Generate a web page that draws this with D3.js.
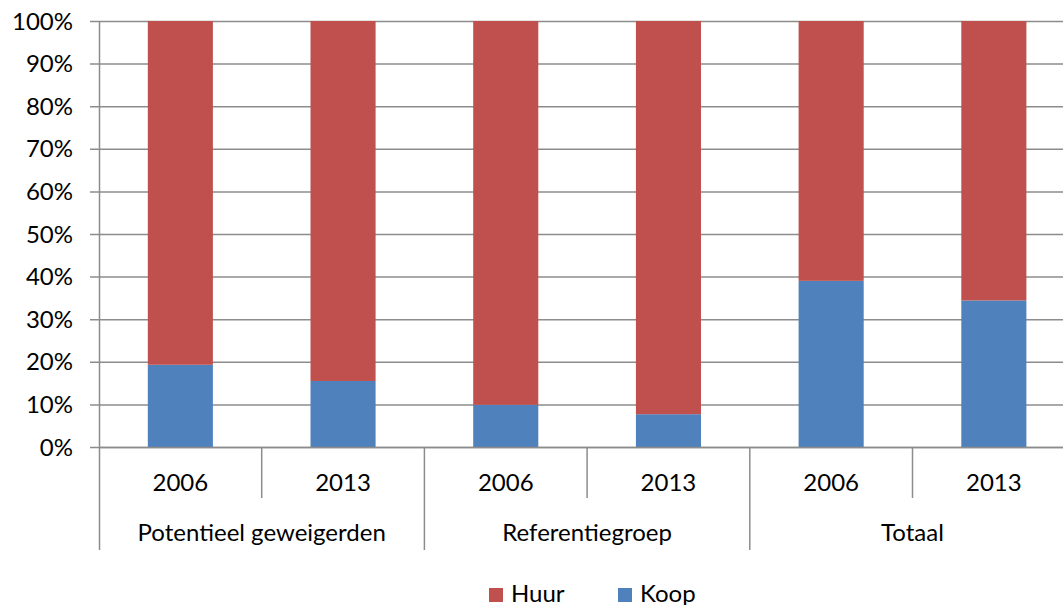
<!DOCTYPE html>
<html>
<head>
<meta charset="utf-8">
<script src="https://cdn.jsdelivr.net/npm/d3@7"></script>
<style>
  body { margin: 0; background: #fff; }
  svg { display: block; font-family: Lato, "Open Sans", sans-serif; }
</style>
</head>
<body>
<svg id="chart" width="1063" height="605"></svg>
<script>
// data
const groups = ["Potentieel geweigerden", "Referentiegroep", "Totaal"];
const years = ["2006", "2013"];
const koop = [19.3, 15.5, 9.9, 7.7, 39.0, 34.4];
const huur = koop.map((k) => 100 - k);
const seriesNames = ["Huur", "Koop"];
const colors = { Huur: "#C0504D", Koop: "#4F81BD" };
const yTicks = [0, 10, 20, 30, 40, 50, 60, 70, 80, 90, 100];

// one row per bar
const rows = [];
groups.forEach((g, gi) => {
  years.forEach((yr, yi) => {
    const i = gi * years.length + yi;
    rows.push({ key: g + "|" + yr, group: g, year: yr, Koop: koop[i], Huur: huur[i] });
  });
});

const svg = d3.select("#chart");
const plotLeft = 99, plotTop = 21, plotBottom = 447;
const step = 162.7;
const plotRight = plotLeft + step * rows.length; // plot runs past the picture edge
const fontSize = 24;

const x = d3.scaleBand()
  .domain(rows.map((d) => d.key))
  .range([plotLeft, plotRight])
  .paddingInner(0.6)
  .paddingOuter(0.3);

const y = d3.scaleLinear().domain([0, 100]).range([plotBottom, plotTop]);

//gridlines with small outward ticks
svg.append("g")
  .selectAll("line")
  .data(yTicks)
  .join("line")
  .attr("x1", plotLeft - 9)
  .attr("x2", plotRight)
  .attr("y1", (d) => y(d) + 0.5)
  .attr("y2", (d) => y(d) + 0.5)
  .attr("stroke", "#8c8c8c")
  .attr("stroke-width", 1.5);

// y labels
svg.append("g")
  .selectAll("text")
  .data(yTicks)
  .join("text")
  .attr("x", plotLeft - 26)
  .attr("y", (d) => y(d))
  .attr("dy", "0.36em")
  .attr("text-anchor", "end")
  .attr("font-size", fontSize)
  .attr("fill", "#000")
  .text((d) => d + "%");

// stacked bars
const stack = d3.stack().keys(["Koop", "Huur"])(rows);
svg.append("g")
  .selectAll("g")
  .data(stack)
  .join("g")
  .attr("fill", (s) => colors[s.key])
  .selectAll("rect")
  .data((s) => s)
  .join("rect")
  .attr("x", (d) => x(d.data.key))
  .attr("width", x.bandwidth())
  .attr("y", (d) => y(d[1]))
  .attr("height", (d) => y(d[0]) - y(d[1]));

// axes lines
svg.append("line")
  .attr("x1", plotLeft + 0.5).attr("x2", plotLeft + 0.5)
  .attr("y1", plotTop).attr("y2", 550)
  .attr("stroke", "#8c8c8c").attr("stroke-width", 1.5);

svg.append("line")
  .attr("x1", plotLeft).attr("x2", plotRight)
  .attr("y1", plotBottom + 0.5).attr("y2", plotBottom + 0.5)
  .attr("stroke", "#8c8c8c").attr("stroke-width", 1.5);

// separators between years (short) and between groups (long)
const seps = d3.range(1, rows.length + 1).map((i) => ({
  x: plotLeft + step * i,
  long: i % years.length === 0
}));
svg.append("g")
  .selectAll("line")
  .data(seps)
  .join("line")
  .attr("x1", (d) => d.x)
  .attr("x2", (d) => d.x)
  .attr("y1", plotBottom)
  .attr("y2", (d) => (d.long ? 550 : 498))
  .attr("stroke", "#8c8c8c")
  .attr("stroke-width", 1.5);

// year labels
svg.append("g")
  .selectAll("text")
  .data(rows)
  .join("text")
  .attr("x", (d) => x(d.key) + x.bandwidth() / 2)
  .attr("y", 491)
  .attr("text-anchor", "middle")
  .attr("font-size", fontSize)
  .text((d) => d.year);

// group labels
svg.append("g")
  .selectAll("text")
  .data(groups)
  .join("text")
  .attr("x", (d, i) => plotLeft + step * (i * 2 + 1))
  .attr("y", 541)
  .attr("text-anchor", "middle")
  .attr("font-size", fontSize)
  .text((d) => d);

// legend
const legend = svg.append("g")
  .selectAll("g")
  .data(seriesNames)
  .join("g")
  .attr("transform", (d, i) => "translate(" + (489 + i * 129) + ",588)");
legend.append("rect")
  .attr("width", 14).attr("height", 14)
  .attr("fill", (d) => colors[d]);
legend.append("text")
  .attr("x", 22).attr("y", 14)
  .attr("font-size", fontSize)
  .text((d) => d);
</script>
</body>
</html>
